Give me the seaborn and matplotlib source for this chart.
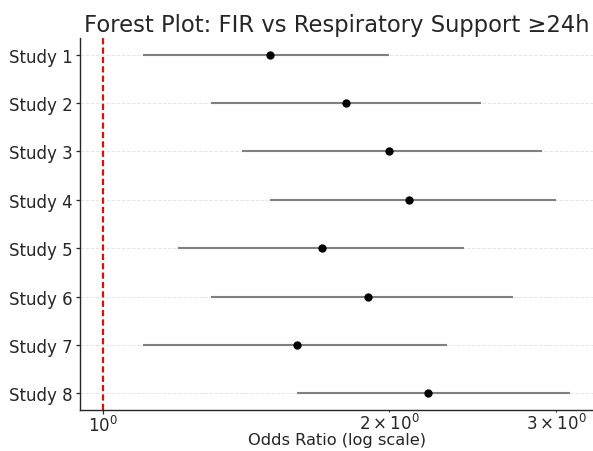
import matplotlib
matplotlib.use("Agg")
import matplotlib.pyplot as plt
import seaborn as sns
import numpy as np

studies = ["Study 1", "Study 2", "Study 3", "Study 4", "Study 5", "Study 6", "Study 7", "Study 8"]
odds_ratio = [1.5, 1.8, 2.0, 2.1, 1.7, 1.9, 1.6, 2.2]
ci_lower = [1.1, 1.3, 1.4, 1.5, 1.2, 1.3, 1.1, 1.6]
ci_upper = [2.0, 2.5, 2.9, 3.0, 2.4, 2.7, 2.3, 3.1]

sns.set_style("ticks")
plt.rcParams['font.family'] = ['DejaVu Sans']

fig = plt.figure(figsize=(5.93, 4.52), dpi=100)
ax = fig.add_axes([80/593, 1 - 411.2/452, (593 - 80)/593, (411.2 - 38.8)/452])

ypos = np.arange(len(studies))
ax.hlines(ypos, ci_lower, ci_upper, color="gray", linewidth=1.5, zorder=2)
sns.scatterplot(x=odds_ratio, y=ypos, color="black", s=36, edgecolor="black", linewidth=0, ax=ax, zorder=3)
ax.axvline(1, color="red", linestyle=(0, (3, 1.5)), linewidth=1.5, zorder=1)

ax.set_xscale("log")
ax.set_xlim(0.945, 3.28)
ax.set_ylim(len(studies) - 1 + 0.35, -0.35)
ax.set_yticks(ypos)
ax.set_yticklabels(studies)
ax.tick_params(axis="y", which="major", labelsize=12, length=2.6, pad=2.6, width=0.9)
ax.tick_params(axis="x", which="major", labelsize=12, length=2.6, pad=0.5, width=0.9)
ax.tick_params(axis="x", which="minor", labelsize=12, length=1.5, pad=0.5, width=0.7)
ax.grid(axis="y", linestyle="--", linewidth=0.7, alpha=0.5)
ax.set_xlabel("Odds Ratio (log scale)", fontsize=11.7, labelpad=-2)
ax.set_ylabel("")
ax.set_title("Forest Plot: FIR vs Respiratory Support ≥24h", fontsize=16.3, pad=5)
for s in ["left", "bottom"]:
    ax.spines[s].set_linewidth(1.0)
sns.despine(ax=ax, top=True, right=True)

fig.savefig("out.png", dpi=100)
